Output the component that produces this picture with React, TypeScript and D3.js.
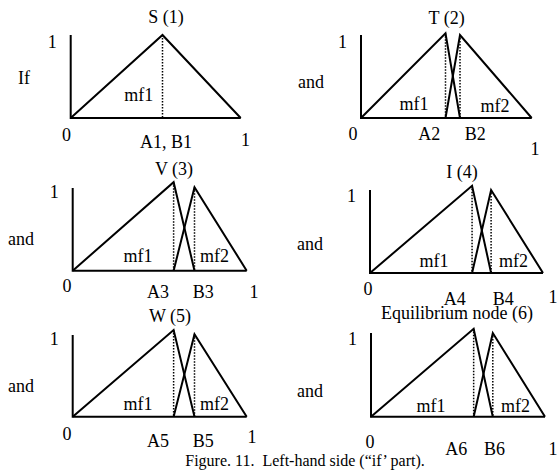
import React, { useEffect, useRef } from 'react';
import * as d3 from 'd3';

// values (x in 0..1 units of each panel)
const titles = ['S (1)', 'T (2)', 'V (3)', 'I (4)', 'W (5)', 'Equilibrium node (6)'];
const connectors = ['If', 'and', 'and', 'and', 'and', 'and'];
const peakA = [0.54, 0.495, 0.58, 0.59, 0.58, 0.59];
const peakB = [0.54, 0.58, 0.7, 0.7, 0.7, 0.7];
const mf1Height = [1.0, 1.02, 1.07, 1.05, 1.06, 1.05];
const mf2Height = [null, 1.0, 1.01, 1.0, 1.01, 1.0];
const aLabels = ['A1, B1', 'A2', 'A3', 'A4', 'A5', 'A6'];
const bLabels = [null, 'B2', 'B3', 'B4', 'B5', 'B6'];
const aLabelX = [0.56, 0.4, 0.49, 0.49, 0.49, 0.49];
const bLabelX = [null, 0.67, 0.75, 0.77, 0.75, 0.71];
const mf1LabelX = [0.4, 0.31, 0.375, 0.37, 0.375, 0.345];
const mf2LabelX = [null, 0.785, 0.815, 0.83, 0.815, 0.83];
const caption = 'Figure. 11.\u00a0\u00a0Left-hand side (\u201cif\u2019 part).';

// panel frames and text baselines
const layout = [
  { x0: 70.7, x1: 240.7, top: 35, bot: 118, titleY: 23, titleX: 166, oneY: 48, connX: 18, connY: 84, mfY: 101, zeroX: 66.5, zeroY: 141, abY: 148, endX: 245.5, endY: 146 },
  { x0: 361, x1: 531.7, top: 35, bot: 118, titleY: 24, titleX: 446.7, oneY: 48, connX: 298, connY: 88, mfY: 110, zeroX: 353, zeroY: 140, abY: 140, endX: 535, endY: 155 },
  { x0: 72.7, x1: 246.7, top: 188, bot: 270.7, titleY: 175, titleX: 174, oneY: 198, connX: 8, connY: 245, mfY: 262, zeroX: 67, zeroY: 292, abY: 298, endX: 254, endY: 298 },
  { x0: 370, x1: 543, top: 190, bot: 273, titleY: 178, titleX: 462, oneY: 202, connX: 297, connY: 250, mfY: 267, zeroX: 368, zeroY: 295, abY: 305, endX: 553, endY: 303 },
  { x0: 72.7, x1: 246.7, top: 335, bot: 416.7, titleY: 322, titleX: 170, oneY: 345, connX: 8, connY: 392, mfY: 410, zeroX: 67, zeroY: 440, abY: 447, endX: 252, endY: 443 },
  { x0: 371, x1: 545, top: 333, bot: 416.7, titleY: 319, titleX: 457, oneY: 345, connX: 297, connY: 397, mfY: 412, zeroX: 370, zeroY: 448, abY: 455, endX: 553, endY: 455 },
];

const App = () => {
  const ref = useRef<SVGSVGElement>(null);

  useEffect(() => {
    const svg = d3.select(ref.current);
    svg.selectAll('*').remove();
    svg.append('rect').attr('width', 557).attr('height', 472).attr('fill', '#fff');

    const font = '"Liberation Serif", "Times New Roman", serif';
    const txt = (g, x, y, s, anchor = 'middle', size = 18) =>
      g.append('text').attr('x', x).attr('y', y).attr('text-anchor', anchor)
        .attr('font-family', font).attr('font-size', size).attr('fill', '#000').text(s);

    titles.forEach((title, i) => {
      const L = layout[i];
      const g = svg.append('g');
      const x = d3.scaleLinear().domain([0, 1]).range([L.x0, L.x1]);
      const y = d3.scaleLinear().domain([0, 1]).range([L.bot, L.top]);
      const line = d3.line<[number, number]>().x(d => x(d[0])).y(d => y(d[1]));

      // axes
      g.append('path').attr('d', line([[0, 1], [0, 0], [1, 0]]))
        .attr('fill', 'none').attr('stroke', '#000').attr('stroke-width', 2);

      // dotted drop lines
      const drops = [[peakA[i], mf1Height[i]]];
      if (mf2Height[i] != null) drops.push([peakB[i], mf2Height[i]]);
      drops.forEach(([px, ph]) => {
        g.append('path').attr('d', line([[px, ph], [px, 0]]))
          .attr('stroke', '#000').attr('stroke-width', 1.5).attr('stroke-dasharray', '1.5,1.5');
      });

      // membership functions
      const mf1 = bLabels[i] == null
        ? [[0, 0], [peakA[i], mf1Height[i]], [1, 0]]
        : [[0, 0], [peakA[i], mf1Height[i]], [peakB[i], 0]];
      g.append('path').attr('d', line(mf1 as [number, number][]))
        .attr('fill', 'none').attr('stroke', '#000').attr('stroke-width', 2);
      if (mf2Height[i] != null) {
        g.append('path').attr('d', line([[peakA[i], 0], [peakB[i], mf2Height[i]], [1, 0]]))
          .attr('fill', 'none').attr('stroke', '#000').attr('stroke-width', 2);
      }

      // text
      txt(g, L.titleX, L.titleY, title);
      txt(g, L.x0 - 14, L.oneY, '1', 'end');
      txt(g, L.connX, L.connY, connectors[i], 'start');
      txt(g, x(mf1LabelX[i]), L.mfY, 'mf1');
      if (mf2LabelX[i] != null) txt(g, x(mf2LabelX[i]), L.mfY + (i === 1 ? 2 : 0), 'mf2');
      txt(g, L.zeroX, L.zeroY, '0');
      txt(g, x(aLabelX[i]), L.abY, aLabels[i]);
      if (bLabels[i] != null) txt(g, x(bLabelX[i]), L.abY, bLabels[i]);
      txt(g, L.endX, L.endY, '1');
    });

    txt(svg, 305, 466, caption, 'middle', 16);
  }, []);

  return (
    <svg ref={ref} width={557} height={472}
      style={{ position: 'absolute', left: 0, top: 0, display: 'block' }} />
  );
};

export default App;
